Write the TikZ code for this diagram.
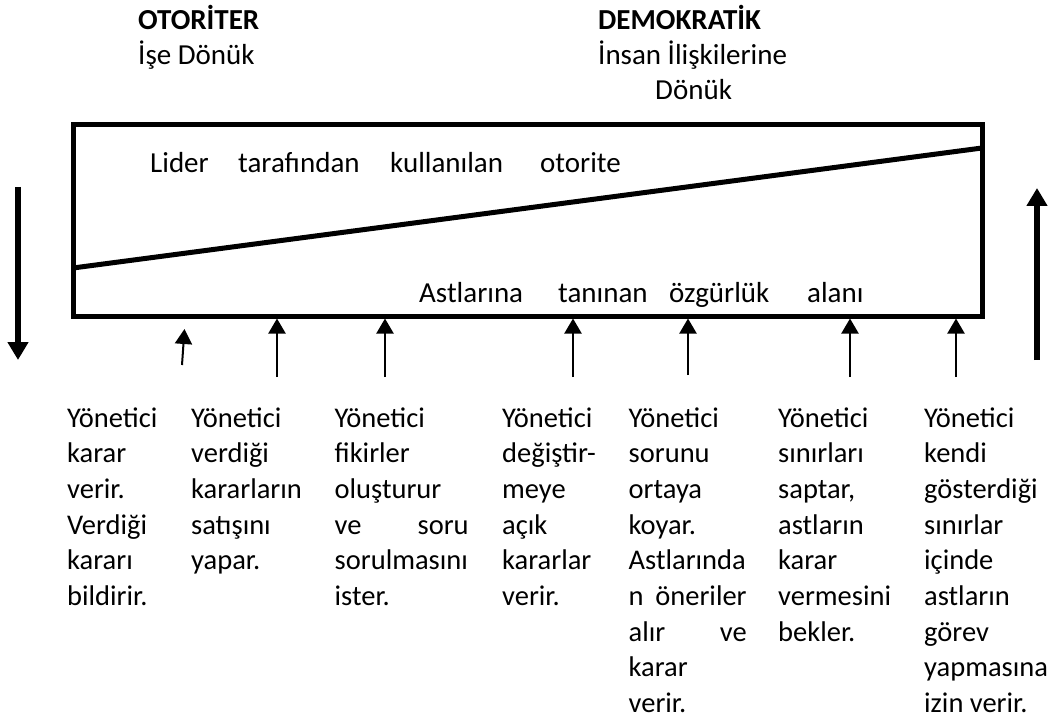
\documentclass[tikz,border=0pt]{standalone}
\usepackage{fontspec}
\setmainfont{Carlito}
\usetikzlibrary{arrows.meta}
\newcommand{\jline}[1]{\leavevmode\hbox to\linewidth{#1}}
\begin{document}
\begin{tikzpicture}[x=1pt,y=-1pt,
  txt/.style={anchor=base west, inner sep=0pt, font=\fontsize{29}{35}\selectfont},
  coltxt/.style={anchor=base west, inner sep=0pt, font=\fontsize{28.5}{35.7}\selectfont},
  smallarrow/.style={line width=2pt, -{Triangle[length=15pt,width=17pt]}},
  bigarrow/.style={line width=5.5pt, -{Triangle[length=18pt,width=20pt]}},
  frame/.style={draw, line width=5pt, inner sep=0pt, minimum width=909pt, minimum height=191pt}]
\useasboundingbox (0,0) rectangle (1058,722);

% headers
\node[txt] (h1) at (138,30) {\textbf{OTORİTER}};
\node[txt] (h2) at (138,65) {İşe Dönük};
\node[txt] (h3) at (598,30) {\textbf{DEMOKRATİK}};
\node[txt] (h4) at (598,65) {İnsan İlişkilerine};
\node[txt] (h5) at (655,100) {Dönük};

% box
\node[frame] (box) at (527.5,220.5) {};
\coordinate (dl) at (73,268);
\coordinate (dr) at (982,148);
\draw[line width=5pt] (dl) -- (dr);

% words in box
\node[txt] (w1) at (150,173) {Lider};
\node[txt] (w2) at (238,173) {tarafından};
\node[txt] (w3) at (390,173) {kullanılan};
\node[txt] (w4) at (540,173) {otorite};
\node[txt] (v1) at (419,302) {Astlarına};
\node[txt] (v2) at (558,302) {tanınan};
\node[txt] (v3) at (669,302) {özgürlük};
\node[txt] (v4) at (807,302) {alanı};

% big side arrows
\coordinate (la) at (18,187);
\coordinate (lb) at (18,360);
\coordinate (ra) at (1037,360);
\coordinate (rb) at (1037,188);
\draw[bigarrow] (la) -- (lb);
\draw[bigarrow] (ra) -- (rb);

% small arrows
\coordinate (s1) at (182,365);
\coordinate (t1) at (184.5,329);
\draw[smallarrow] (s1) -- (t1);
\foreach \n/\x/\y in {2/277/377,3/385/377,4/573/377,5/688/375,6/850/377,7/956/377}{
  \coordinate (s\n) at (\x,\y);
  \draw[smallarrow] (s\n) -- (s\n |- box.south);
}

% columns
\node[coltxt] (c1) at (67,427) {\parbox[t]{105pt}{\raggedright Yönetici\\karar\\verir.\\Verdiği\\kararı\\bildirir.}};
\node[coltxt] (c2) at (191,427) {\parbox[t]{125pt}{\raggedright Yönetici\\verdiği\\kararların\\satışını\\yapar.}};
\node[coltxt] (c3) at (334.5,427) {\parbox[t]{134pt}{\raggedright Yönetici\\fikirler\\oluşturur\\\jline{ve\hfill soru}\\sorulmasını\\ister.}};
\node[coltxt] (c4) at (502,427) {\parbox[t]{110pt}{\raggedright Yönetici\\\mbox{değiştir-}\\meye\\açık\\kararlar\\verir.}};
\node[coltxt] (c5) at (628.5,427) {\parbox[t]{118pt}{\raggedright Yönetici\\sorunu\\ortaya\\koyar.\\Astlarında\\\jline{n\hfill öneriler}\\\jline{alır\hfill ve}\\karar\\verir.}};
\node[coltxt] (c6) at (778,427) {\parbox[t]{125pt}{\raggedright Yönetici\\sınırları\\saptar,\\astların\\karar\\vermesini\\bekler.}};
\node[coltxt] (c7) at (924,427) {\parbox[t]{130pt}{\raggedright Yönetici\\kendi\\gösterdiği\\sınırlar\\içinde\\astların\\görev\\yapmasına\\izin verir.}};
\end{tikzpicture}
\end{document}
